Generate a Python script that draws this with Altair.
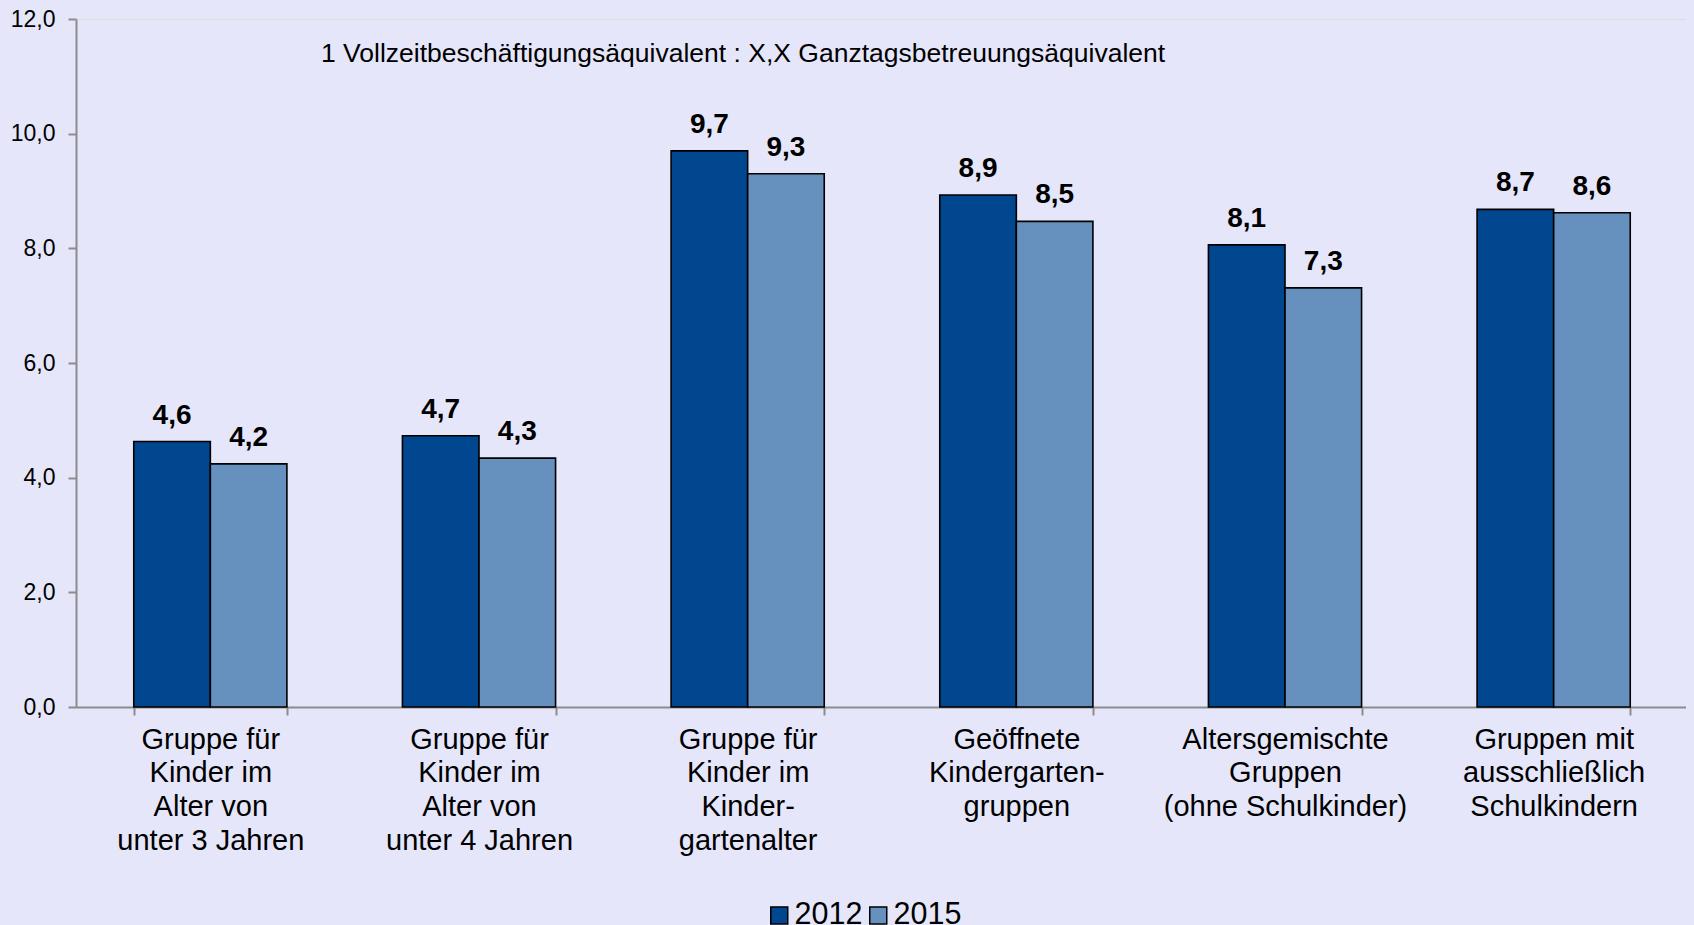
import altair as alt
import pandas as pd
import jinja2

categories = [
    "Gruppe für|Kinder im|Alter von|unter 3 Jahren",
    "Gruppe für|Kinder im|Alter von|unter 4 Jahren",
    "Gruppe für|Kinder im|Kinder-|gartenalter",
    "Geöffnete|Kindergarten-|gruppen",
    "Altersgemischte|Gruppen|(ohne Schulkinder)",
    "Gruppen mit|ausschließlich|Schulkindern",
]
years = ["2012", "2015"]
values_2012 = [4.63, 4.73, 9.70, 8.93, 8.06, 8.68]
values_2015 = [4.24, 4.34, 9.30, 8.47, 7.31, 8.62]
y_ticks = [0, 2, 4, 6, 8, 10, 12]
note = "1 Vollzeitbeschäftigungsäquivalent : X,X Ganztagsbetreuungsäquivalent"

rows = []
for i, c in enumerate(categories):
    rows.append({"cat": c, "year": "2012", "value": values_2012[i]})
    rows.append({"cat": c, "year": "2015", "value": values_2015[i]})
df = pd.DataFrame(rows)
df["label"] = df["value"].map(lambda v: f"{v:.1f}".replace(".", ","))

FONT = "Liberation Sans"
AXIS_GREY = "#8c8c8c"
BG = "#E6E6FA"

x_enc = alt.X(
    "cat:N",
    sort=categories,
    scale=alt.Scale(paddingInner=0.43, paddingOuter=0.215),
    axis=alt.Axis(
        title=None,
        labelExpr="split(datum.label, '|')",
        labelAngle=0,
        labelFontSize=29,
        labelLineHeight=33.8,
        labelFont=FONT,
        labelColor="black",
        labelLimit=400,
        labelOverlap=False,
        labelPadding=10,
        tickBand="extent",
        tickSize=8,
        tickColor=AXIS_GREY,
        tickWidth=2,
        domainColor=AXIS_GREY,
        domainWidth=2,
    ),
)
xo_enc = alt.XOffset("year:N", sort=years, scale=alt.Scale(paddingInner=0, paddingOuter=0))
y_enc = alt.Y(
    "value:Q",
    scale=alt.Scale(domain=[0, 12], nice=False),
    axis=alt.Axis(
        title=None,
        values=y_ticks,
        labelExpr="replace(format(datum.value, '.1f'), '.', ',')",
        grid=False,
        tickSize=8,
        tickWidth=2,
        tickColor=AXIS_GREY,
        domainColor=AXIS_GREY,
        domainWidth=2,
        labelFontSize=23,
        labelFont=FONT,
        labelColor="black",
        labelPadding=13,
    ),
)

bars = alt.Chart(df).mark_bar(stroke="black", strokeWidth=1.6).encode(
    x=x_enc,
    xOffset=xo_enc,
    y=y_enc,
    color=alt.Color(
        "year:N",
        scale=alt.Scale(domain=years, range=["#00478F", "#6690BE"]),
        legend=alt.Legend(
            title=None,
            orient="none",
            legendX=688,
            legendY=881,
            direction="horizontal",
            columns=2,
            labelFontSize=30.5,
            labelFont=FONT,
            labelColor="black",
            symbolType="square",
            symbolSize=289,
            symbolStrokeColor="black",
            symbolStrokeWidth=1.5,
            symbolOpacity=1,
            labelOffset=0,
            columnPadding=0,
        ),
    ),
)

labels = alt.Chart(df).mark_text(
    fontSize=28, fontWeight="bold", font=FONT, color="black",
    baseline="alphabetic", dy=-18,
).encode(x=x_enc, xOffset=xo_enc, y=y_enc, text="label:N")

annot = alt.Chart(pd.DataFrame({"t": [note]})).mark_text(
    fontSize=26.5, font=FONT, color="black", align="left", baseline="alphabetic"
).encode(x=alt.value(245), y=alt.value(43), text="t:N")

chart = alt.layer(bars, labels, annot).properties(
    width=1612,
    height=688,
    background=BG,
    padding={"left": 68, "top": 11, "right": 6, "bottom": 218},
    autosize=alt.AutoSizeParams(type="none"),
).configure_view(stroke=None).configure(font=FONT)

page_template = jinja2.Template(
    """<!DOCTYPE html>
<html>
<head>
  <meta charset="utf-8">
  <style>
    html, body { background: """ + BG + """; overflow: hidden; }
    body { margin: 8px; }
    #{{ output_div }} { display: block; width: max-content; }
    #{{ output_div }} svg { display: block; flex-shrink: 0; }
  </style>
  <script type="text/javascript" src="{{ base_url }}/vega@{{ vega_version }}"></script>
  <script type="text/javascript" src="{{ base_url }}/vega-lite@{{ vegalite_version }}"></script>
  <script type="text/javascript" src="{{ base_url }}/vega-embed@{{ vegaembed_version }}"></script>
</head>
<body>
  <div id="{{ output_div }}"></div>
  <script>
    vegaEmbed("#{{ output_div }}", {{ spec }}, {{ embed_options }});
  </script>
</body>
</html>
"""
)

chart.save(
    "out.html",
    embed_options={"renderer": "svg", "actions": False},
    template=page_template,
)
